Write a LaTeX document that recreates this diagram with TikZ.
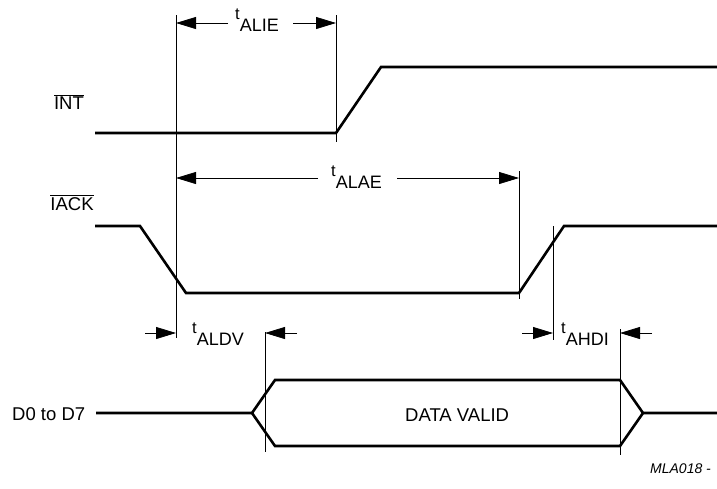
\documentclass[tikz,border=0pt]{standalone}
\usepackage{fontspec}
\setmainfont{Liberation Sans}
\usetikzlibrary{arrows.meta}
\newcommand{\tname}[1]{\raisebox{12pt}{\fontsize{16.5}{16.5}\selectfont t}#1}
\tikzset{
  wave/.style={line width=2.6pt, line join=miter},
  edge/.style={line width=0.8pt},
  dim/.style={line width=0.8pt, -{Triangle[length=20pt,width=12pt]}},
  lbl/.style={inner sep=0pt, font=\fontsize{18.5}{18.5}\selectfont},
  tlbl/.style={inner sep=0pt, font=\fontsize{18}{18}\selectfont}
}
\begin{document}
\begin{tikzpicture}[x=1pt,y=-1pt]
\useasboundingbox (0,0) rectangle (717,488);

% signal names
\node[lbl, anchor=base] (int) at (69,109) {$\overline{\mbox{INT}}$};
\node[lbl, anchor=base] (ack) at (72,210) {$\overline{\mbox{IACK}}$};
\node[lbl, anchor=base west] (data) at (12,420) {D0 to D7};

% waveforms
\draw[wave] (95,133) -- (336,133) -- (381,67) -- (717,67);
\draw[wave] (95,226) -- (140,226) -- (186,293) -- (519,293) -- (564,226) -- (717,226);
\draw[wave] (96,413) -- (252,413) -- (275,380) -- (620,380) -- (643,413) -- (717,413);
\draw[wave] (252,413) -- (275,446) -- (620,446) -- (643,413);
\node[lbl, anchor=base west] (valid) at (405,421) {DATA VALID};

% edge markers
\coordinate (e1) at (176,15);  \coordinate (e1b) at (176,338);
\coordinate (e2) at (336,15);  \coordinate (e2b) at (336,142);
\coordinate (e3) at (519,171); \coordinate (e3b) at (519,299);
\coordinate (e4) at (553,226); \coordinate (e4b) at (553,340);
\coordinate (e5) at (265,332); \coordinate (e5b) at (265,452);
\coordinate (e6) at (620,329); \coordinate (e6b) at (620,455);
\draw[edge] (e1) -- (e1b);
\draw[edge] (e2) -- (e2b);
\draw[edge] (e3) -- (e3b);
\draw[edge] (e4) -- (e4b);
\draw[edge] (e5) -- (e5b);
\draw[edge] (e6) -- (e6b);

% timing parameters
\node[tlbl, anchor=base west] (alie) at (235,31) {\tname{ALIE}};
\draw[dim] (228,23) -- (e1 |- 0,23);
\draw[dim] (293,23) -- (e2 |- 0,23);

\node[tlbl, anchor=base west] (alae) at (331,188) {\tname{ALAE}};
\draw[dim] (318,178) -- (e1 |- 0,178);
\draw[dim] (397,178) -- (e3 |- 0,178);

\node[tlbl, anchor=base west] (aldv) at (192,345) {\tname{ALDV}};
\draw[dim] (145,333) -- (e1 |- 0,333);
\draw[dim] (297,333) -- (e5 |- 0,333);

\node[tlbl, anchor=base west] (ahdi) at (561,345) {\tname{AHDI}};
\draw[dim] (522,333) -- (e4 |- 0,333);
\draw[dim] (652,333) -- (e6 |- 0,333);

\node[inner sep=0pt, anchor=base west, font=\fontsize{14}{14}\selectfont\itshape] (code) at (650,473) {MLA018 -};
\end{tikzpicture}
\end{document}
